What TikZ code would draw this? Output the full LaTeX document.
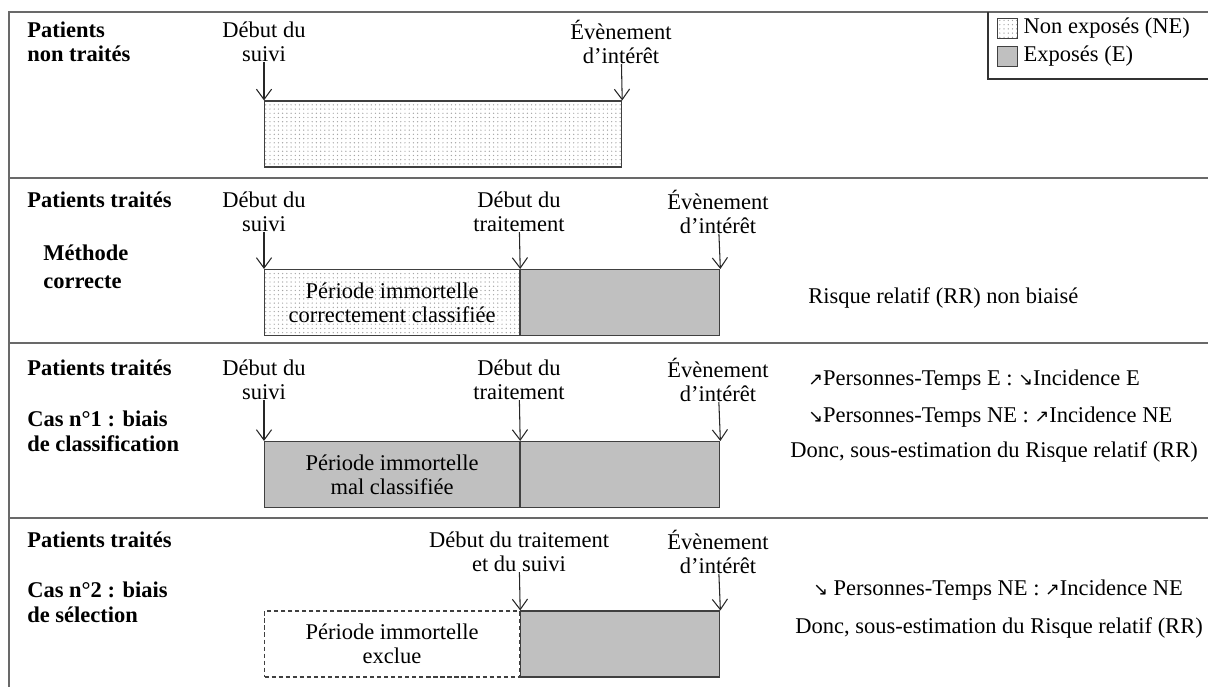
\documentclass[tikz,border=0pt]{standalone}
\usepackage{fontspec}
\setmainfont{Liberation Serif}
\newfontfamily\arrowfont{DejaVu Sans}
\usetikzlibrary{arrows.meta,patterns,positioning}
\definecolor{framegray}{RGB}{105,105,105}
\definecolor{boxgray}{RGB}{192,192,192}
\definecolor{dotgray}{RGB}{165,165,165}
\newcommand{\hausse}{{\arrowfont\fontsize{12.5}{12.5}\selectfont ↗}}
\newcommand{\baisse}{{\arrowfont\fontsize{12.5}{12.5}\selectfont ↘}}
\tikzstyle{separator}=[draw=framegray,line width=1.2pt]
\tikzstyle{periodne}=[draw=black!75,line width=0.8pt,pattern=dots,pattern color=dotgray,minimum height=1.65cm,anchor=west,align=center,inner sep=0pt]
\tikzstyle{periode}=[draw=black!75,line width=0.8pt,fill=boxgray,minimum height=1.65cm,anchor=west,align=center,inner sep=0pt]
\tikzstyle{periodex}=[draw=black!75,line width=0.8pt,dash pattern=on 3pt off 2pt,minimum height=1.65cm,anchor=west,align=center,inner sep=0pt]
\tikzstyle{eventlabel}=[align=center,inner sep=0pt]
\tikzstyle{grouplabel}=[font=\fontsize{16}{17}\selectfont\bfseries,align=left,anchor=west,inner sep=0pt]
\tikzstyle{resultlabel}=[anchor=west,inner sep=0pt]
\tikzstyle{timearrow}=[->,>={Straight Barb[length=2.6mm,width=3.8mm]},line width=0.75pt,black!85]
\tikzstyle{legendkey}=[draw=black!75,line width=0.6pt,minimum size=0.5cm,inner sep=0pt]

\begin{document}
\begin{tikzpicture}[x=0.025cm,y=-0.025cm,font=\fontsize{16}{17}\selectfont]
\useasboundingbox (0,0) rectangle (1208,687);

% cadre
\draw[separator] (1208,12) -- (9,12) -- (9,687);
\draw[separator] (9,178) -- (1208,178);
\draw[separator] (9,343) -- (1208,343);
\draw[separator] (9,518) -- (1208,518);

% legende
\draw[black!80,line width=0.8pt] (988,12) -- (988,79) -- (1208,79);
\node[legendkey,pattern=dots,pattern color=dotgray] (KNE) at (1007,28) {};
\node[legendkey,fill=boxgray] (KE) at (1007,56.5) {};
\node[resultlabel,right=0.15cm of KNE] (TNE) {Non exposés (NE)};
\node[resultlabel,right=0.15cm of KE] (TE) {Exposés (E)};

% patients non traites
\node[grouplabel] (G1) at (27,42) {Patients\\non traités};
\node[eventlabel] (D1) at (264,42) {Début du\\suivi};
\node[eventlabel] (V1) at (621,42) {Évènement\\d’intérêt};
\node[periodne,minimum width=8.925cm] (P1) at (264,134) {};
\draw[timearrow] (D1) -- (P1.north west);
\draw[timearrow] (V1) -- (P1.north east);

% methode correcte
\node[grouplabel] (G2) at (27,200) {Patients traités};
\node[grouplabel] (M2) at (43,267) {Méthode\\[3pt]correcte};
\node[eventlabel] (D2) at (264,212) {Début du\\suivi};
\node[eventlabel] (T2) at (519,212) {Début du\\traitement};
\node[eventlabel] (V2) at (718,212) {Évènement\\d’intérêt};
\node[periodne,minimum width=6.375cm] (P2) at (264,302.5) {Période immortelle\\correctement classifiée};
\node[periode,minimum width=4.975cm] (E2) at (P2.east) {};
\draw[timearrow] (D2) -- (P2.north west);
\draw[timearrow] (T2) -- (P2.north east);
\draw[timearrow] (V2) -- (E2.north east);
\node[resultlabel] (R2) at (808,298) {Risque relatif (RR) non biaisé};

% cas 1
\node[grouplabel] (G3) at (27,368) {Patients traités};
\node[grouplabel] (C3) at (27,431) {Cas n°1 : biais\\[1pt]de classification};
\node[eventlabel] (D3) at (264,380) {Début du\\suivi};
\node[eventlabel] (T3) at (519,380) {Début du\\traitement};
\node[eventlabel] (V3) at (718,380) {Évènement\\d’intérêt};
\node[periode,minimum width=6.375cm] (P3) at (264,474.5) {Période immortelle\\mal classifiée};
\node[periode,minimum width=4.975cm] (E3) at (P3.east) {};
\draw[timearrow] (D3) -- (P3.north west);
\draw[timearrow] (T3) -- (P3.north east);
\draw[timearrow] (V3) -- (E3.north east);
\node[resultlabel] (R3a) at (808,380) {\hausse Personnes-Temps E : \baisse Incidence E};
\node[resultlabel] (R3b) at (808,417) {\baisse Personnes-Temps NE : \hausse Incidence NE};
\node[resultlabel] (R3c) at (790,452) {Donc, sous-estimation du Risque relatif (RR)};

% cas 2
\node[grouplabel] (G4) at (27,540) {Patients traités};
\node[grouplabel] (C4) at (27,602) {Cas n°2 : biais\\[1pt]de sélection};
\node[eventlabel] (T4) at (519,552) {Début du traitement\\et du suivi};
\node[eventlabel] (V4) at (718,552) {Évènement\\d’intérêt};
\node[periodex,minimum width=6.375cm] (X4) at (264,644) {Période immortelle\\exclue};
\node[periode,minimum width=4.975cm] (E4) at (X4.east) {};
\draw[timearrow] (T4) -- (X4.north east);
\draw[timearrow] (V4) -- (E4.north east);
\node[resultlabel] (R4a) at (813,590) {\baisse{} Personnes-Temps NE : \hausse Incidence NE};
\node[resultlabel] (R4b) at (795,628) {Donc, sous-estimation du Risque relatif (RR)};

\end{tikzpicture}
\end{document}
